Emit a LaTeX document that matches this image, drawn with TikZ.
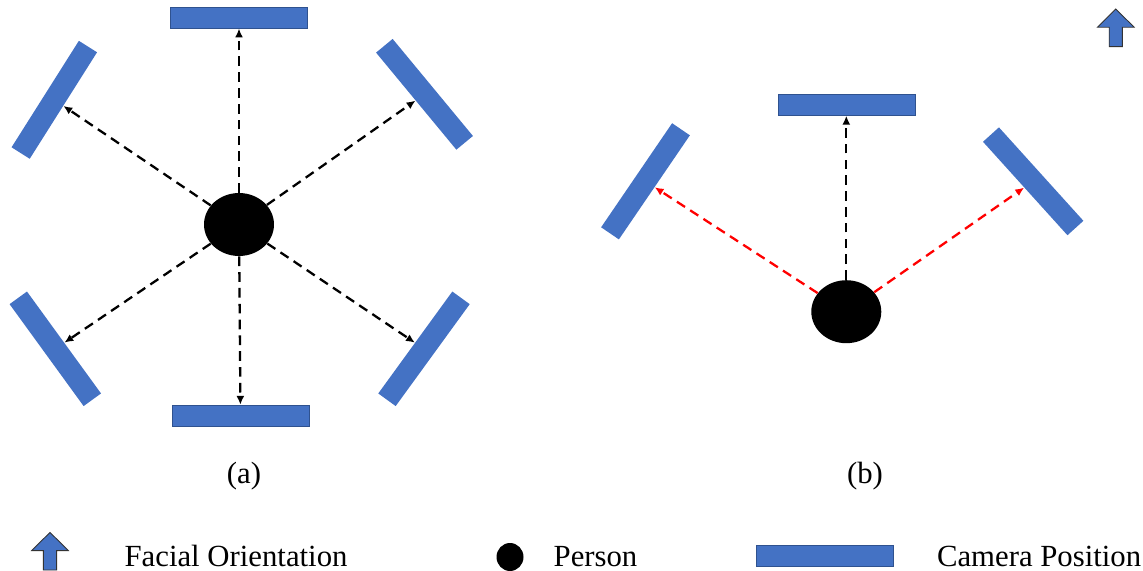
\documentclass[tikz,border=0pt]{standalone}
\usepackage{fontspec}
\setmainfont{Liberation Serif}
\usepackage{tikz}
\usetikzlibrary{arrows.meta,positioning,shapes.geometric}
\definecolor{camblue}  {HTML}{4472C4}
\definecolor{camedge}  {HTML}{2F528F}
\definecolor{ink}      {HTML}{000000}
\definecolor{warn}     {HTML}{FF0000}

\begin{document}
\begin{tikzpicture}[x=0.02cm,y=-0.02cm,
  camera/.style={rectangle,fill=camblue,draw=camedge,line width=0.3pt,inner sep=0pt,minimum width=2.74cm,minimum height=0.42cm},
  tilted/.style={camera,draw=none,minimum width=2.52cm,minimum height=0.43cm,rotate=#1},
  person/.style={ellipse,fill=ink,inner sep=0pt,minimum width=1.4cm,minimum height=1.26cm},
  look/.style={ink,line width=1.3pt,dash pattern=on 5.5pt off 3.5pt,-{Latex[length=5pt,width=4.5pt]}},
  label/.style={font=\fontsize{17.5}{20}\selectfont,inner sep=0pt},
  facing/.pic={\draw[fill=camblue,draw=ink!80,line width=0.5pt] (0,-18.8) -- (18.3,-0.6) -- (6.6,-0.6) -- (6.6,18.8) -- (-6.6,18.8) -- (-6.6,-0.6) -- (-18.3,-0.6) -- cycle;}]
\useasboundingbox (0,0) rectangle (1143,571);
% (a) six cameras round the person
\node[camera] (ca-0) at (239,17.8) {};
\node[tilted=57.7] (ca-1) at (54.3,99.8) {};
\node[tilted=-50.4] (ca-2) at (424.5,94.3) {};
\node[tilted=-54] (ca-3) at (55.3,348.8) {};
\node[tilted=54] (ca-4) at (424,348.8) {};
\node[camera] (ca-5) at (240.5,415.5) {};
\node[person] (pa) at (239,224.5) {};
\foreach \c in {0,...,5}
  \draw[look] (pa) -- (ca-\c);
\node[label] (lab-a) at (244,476) {(a)};
% (b) three cameras, person facing up
\node[camera] (cb-0) at (846.3,105) {};
\node[tilted=55.7] (cb-1) at (645.5,181.3) {};
\node[tilted=-47.9] (cb-2) at (1033.2,181.3) {};
\node[person] (pb) at (846.3,311.7) {};
\draw[look] (pb) -- (cb-0);
\draw[look,warn] (pb) -- (cb-1);
\draw[look,warn] (pb) -- (cb-2);
\pic at (1115.8,27.8) {facing};
\node[label] (lab-b) at (865,476) {(b)};
% legend
\pic at (50,551.2) {facing};
\node[label,anchor=base west] (lg-face) at (124.3,566) {Facial Orientation};
\node[ellipse,fill=ink,inner sep=0pt,minimum width=0.54cm,minimum height=0.56cm] (lg-dot) at (510,557) {};
\node[label,anchor=base west] (lg-person) at (553.3,566) {Person};
\node[camera] (lg-cam) at (824.3,556) {};
\node[label,anchor=base west] (lg-camtext) at (936.7,566) {Camera Position};
\end{tikzpicture}
\end{document}
